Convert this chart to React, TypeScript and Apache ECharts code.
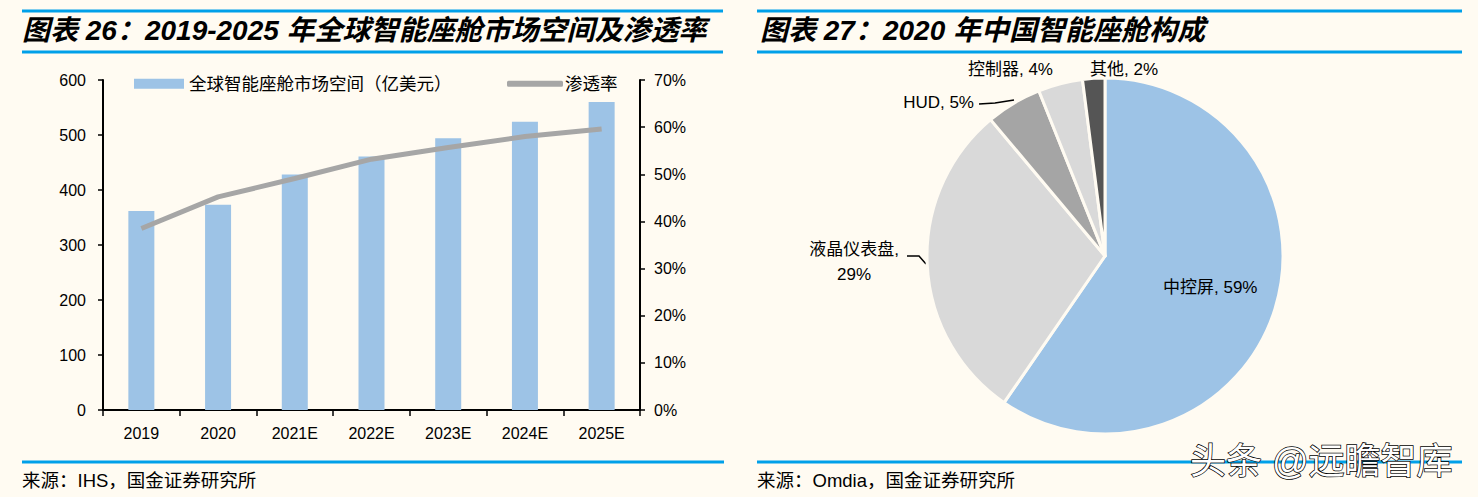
import React, { useEffect, useRef } from 'react';
import * as echarts from 'echarts';

const categories = ['2019', '2020', '2021E', '2022E', '2023E', '2024E', '2025E'];
const marketSize = [362, 373, 428, 461, 494, 524, 560];
const penetration = [0.385, 0.452, 0.491, 0.532, 0.557, 0.58, 0.596];
const barName = '全球智能座舱市场空间（亿美元）';
const lineName = '渗透率';

const pieNames = ['中控屏', '液晶仪表盘', 'HUD', '控制器', '其他'];
const pieValues = [59, 29, 5, 4, 2];
const pieColors = ['#9DC3E6', '#D9D9D9', '#A5A5A5', '#D9D9D9', '#555555'];

const titleLeft = '图表 26：2019-2025 年全球智能座舱市场空间及渗透率';
const titleRight = '图表 27：2020 年中国智能座舱构成';
const sourceLeft = '来源：IHS，国金证券研究所';
const sourceRight = '来源：Omdia，国金证券研究所';
const watermark = '头条 @远瞻智库';

const BG = '#FFFBF2';
const BLUE_LINE = '#00A0E9';
const FONT = '"Liberation Sans", "Noto Sans CJK SC", sans-serif';

export default function App() {
  const ref = useRef<HTMLDivElement>(null);
  useEffect(() => {
    const chart = echarts.init(ref.current!, null, { renderer: 'svg' });

    const pieLabelLayout = (params: any) => {
      const i = params.dataIndex;
      if (i === 0) return { x: 1163, y: 287, align: 'left', verticalAlign: 'middle' };
      if (i === 1)
        return {
          x: 854,
          y: 262,
          align: 'center',
          verticalAlign: 'middle',
          labelLinePoints: [[907, 256], [919, 256], [926, 264]],
        };
      if (i === 2)
        return {
          x: 974,
          y: 102,
          align: 'right',
          verticalAlign: 'middle',
          labelLinePoints: [[979, 104], [995, 103], [1014, 100]],
        };
      if (i === 3) return { x: 1053, y: 69, align: 'right', verticalAlign: 'middle' };
      return { x: 1090, y: 69, align: 'left', verticalAlign: 'middle' };
    };

    const option: any = {
      animation: false,
      backgroundColor: BG,
      textStyle: { fontFamily: FONT },
      grid: { left: 103, top: 80, width: 537, height: 330, containLabel: false },
      legend: [
        {
          data: [barName],
          left: 134,
          top: 75,
          padding: 0,
          itemWidth: 50,
          itemHeight: 10,
          itemGap: 5,
          icon: 'rect',
          textStyle: { fontSize: 17.5, color: '#000', fontFamily: FONT },
        },
        {
          data: [lineName],
          left: 507,
          top: 75,
          padding: 0,
          itemWidth: 56,
          itemHeight: 6,
          icon: 'roundRect',
          textStyle: { fontSize: 17.5, color: '#000', fontFamily: FONT, padding: [0, 0, 0, -3] },
        },
      ],
      xAxis: {
        type: 'category',
        data: categories,
        boundaryGap: true,
        axisLine: { lineStyle: { color: '#000', width: 2 } },
        axisTick: { show: true, length: 6, lineStyle: { color: '#000', width: 1.5 } },
        axisLabel: { color: '#000', fontSize: 16, margin: 15, fontFamily: FONT },
        splitLine: { show: false },
      },
      yAxis: [
        {
          type: 'value',
          min: 0,
          max: 600,
          interval: 100,
          axisLine: { show: true, lineStyle: { color: '#000', width: 2 } },
          axisTick: { show: true, length: 5, lineStyle: { color: '#000', width: 1.5 } },
          axisLabel: { color: '#000', fontSize: 16, margin: 17, fontFamily: FONT },
          splitLine: { show: false },
        },
        {
          type: 'value',
          min: 0,
          max: 0.7,
          interval: 0.1,
          position: 'right',
          axisLine: { show: true, lineStyle: { color: '#000', width: 2 } },
          axisTick: { show: true, length: 5, lineStyle: { color: '#000', width: 1.5 } },
          axisLabel: {
            color: '#000',
            fontSize: 16,
            margin: 14,
            fontFamily: FONT,
            formatter: (v: number) => Math.round(v * 100) + '%',
          },
          splitLine: { show: false },
        },
      ],
      series: [
        {
          name: barName,
          type: 'bar',
          data: marketSize,
          barWidth: 26,
          itemStyle: { color: '#9DC3E6' },
        },
        {
          name: lineName,
          type: 'line',
          yAxisIndex: 1,
          data: penetration,
          symbol: 'none',
          lineStyle: { color: '#A6A6A6', width: 5 },
          itemStyle: { color: '#A6A6A6' },
        },
        {
          type: 'pie',
          center: [1105, 256],
          radius: 178,
          startAngle: 90,
          clockwise: true,
          itemStyle: { borderColor: BG, borderWidth: 3 },
          label: {
            show: true,
            position: 'outside',
            color: '#000',
            fontSize: 17,
            fontFamily: FONT,
            lineHeight: 25,
          },
          labelLine: { show: true, lineStyle: { color: '#000', width: 1.5 } },
          labelLayout: pieLabelLayout,
          data: pieNames.map((n, i) => ({
            name: n,
            value: pieValues[i],
            itemStyle: { color: pieColors[i] },
            label: {
              formatter: i === 1 ? '{b},\n{c}%' : '{b}, {c}%',
              position: i === 0 ? 'inside' : 'outside',
            },
            labelLine: { show: i === 1 || i === 2 },
          })),
        },
      ],
      graphic: [
        { type: 'line', shape: { x1: 22, y1: 11, x2: 723, y2: 11 }, style: { stroke: BLUE_LINE, lineWidth: 3 } },
        { type: 'line', shape: { x1: 22, y1: 52, x2: 723, y2: 52 }, style: { stroke: BLUE_LINE, lineWidth: 3 } },
        { type: 'line', shape: { x1: 757, y1: 11, x2: 1462, y2: 11 }, style: { stroke: BLUE_LINE, lineWidth: 3 } },
        { type: 'line', shape: { x1: 757, y1: 52, x2: 1462, y2: 52 }, style: { stroke: BLUE_LINE, lineWidth: 3 } },
        { type: 'line', shape: { x1: 22, y1: 462, x2: 724, y2: 462 }, style: { stroke: BLUE_LINE, lineWidth: 3 } },
        { type: 'line', shape: { x1: 757, y1: 462, x2: 1462, y2: 462 }, style: { stroke: BLUE_LINE, lineWidth: 3 } },
        {
          type: 'text',
          x: 22,
          y: 30,
          style: {
            text: titleLeft,
            fontSize: 28,
            fontWeight: 'bold',
            fontStyle: 'italic',
            fontFamily: FONT,
            fill: '#000',
            verticalAlign: 'middle',
          },
        },
        {
          type: 'text',
          x: 760,
          y: 30,
          style: {
            text: titleRight,
            fontSize: 28,
            fontWeight: 'bold',
            fontStyle: 'italic',
            fontFamily: FONT,
            fill: '#000',
            verticalAlign: 'middle',
          },
        },
        {
          type: 'text',
          x: 22,
          y: 480,
          style: { text: sourceLeft, fontSize: 18.5, fontFamily: FONT, fill: '#000', verticalAlign: 'middle' },
        },
        {
          type: 'text',
          x: 757,
          y: 480,
          style: { text: sourceRight, fontSize: 18.5, fontFamily: FONT, fill: '#000', verticalAlign: 'middle' },
        },
        {
          type: 'text',
          x: 1190,
          y: 461,
          z: 100,
          style: {
            text: watermark,
            fontSize: 36,
            fontFamily: FONT,
            fill: '#FFFFFF',
            stroke: '#000',
            lineWidth: 1.5,
            verticalAlign: 'middle',
            shadowColor: 'rgba(0,0,0,0.85)',
            shadowOffsetX: 2,
            shadowOffsetY: 2,
            shadowBlur: 1,
          },
        },
      ],
    };
    chart.setOption(option);
    return () => chart.dispose();
  }, []);
  return (
    <div
      ref={ref}
      style={{ position: 'fixed', left: 0, top: 0, width: 1478, height: 497, background: BG }}
    />
  );
}
